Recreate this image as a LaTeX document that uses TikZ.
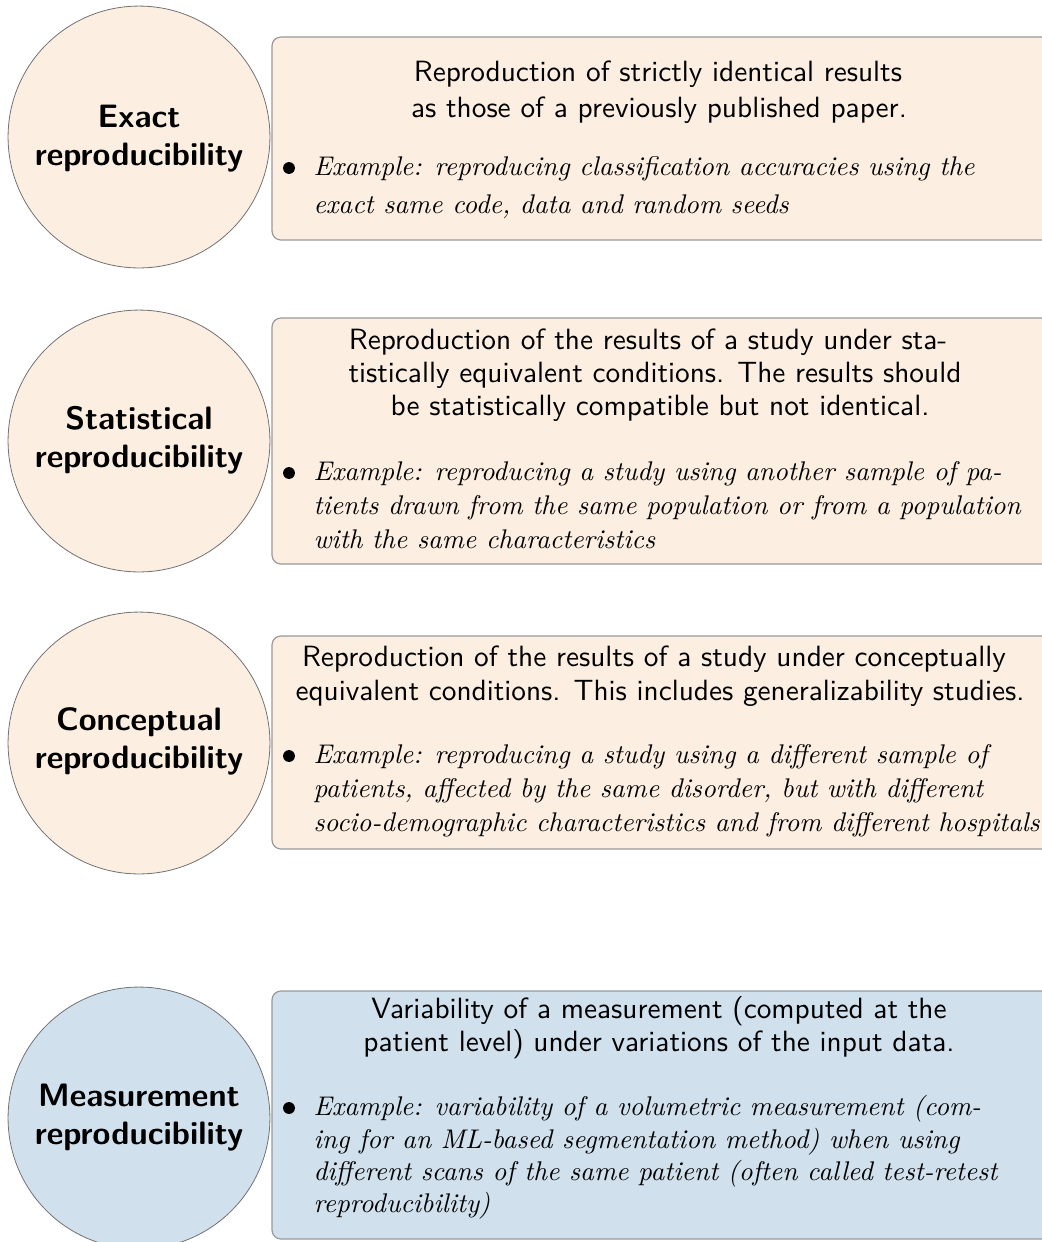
\documentclass[tikz,border=0pt]{standalone}
\usepackage{fontspec}
\definecolor{peach}{RGB}{252,238,225}
\definecolor{paleblue}{RGB}{208,224,237}
\def\pxu{0.3704pt}
\begin{document}
\begin{tikzpicture}[x=\pxu,y=-\pxu,
  circ/.style={circle, draw=black!55, line width=0.3pt, minimum size=97pt, inner sep=0pt},
  warm/.style={fill=peach},
  cool/.style={fill=paleblue},
  card/.style={draw=black!40, line width=0.45pt, rounded corners=3.3pt},
  ttl/.style={font=\fontsize{12}{14}\selectfont\sffamily\bfseries, anchor=base, inner sep=0pt},
  desc/.style={font=\fontsize{10.85}{13.6}\selectfont\sffamily, anchor=base, inner sep=0pt},
  ex/.style={font=\fontsize{10}{12}\selectfont\itshape, anchor=base west, inner sep=0pt},
  bul/.style={fill=black, circle, inner sep=0pt, minimum size=4.4pt}]
\useasboundingbox (0,0) rectangle (1042,1242);
\clip (0,0) rectangle (1042,1242);

% ---------- circles ----------
\node[circ, warm] (c1) at (139,137) {};
\node[circ, warm] (c2) at (139,441) {};
\node[circ, warm] (c3) at (139,743) {};
\node[circ, cool] (c4) at (139,1118) {};

% ---------- cards ----------
\path[card, warm] (272,37) rectangle (1062,240);
\path[card, warm] (272,318) rectangle (1062,564);
\path[card, warm] (272,636) rectangle (1062,849);
\path[card, cool] (272,991) rectangle (1062,1239);

% ---------- circle titles ----------
\node[ttl] (t1a) at (139,127) {Exact};
\node[ttl] (t1b) at (139,165) {reproducibility};
\node[ttl] (t2a) at (139,429) {Statistical};
\node[ttl] (t2b) at (139,467) {reproducibility};
\node[ttl] (t3a) at (139,730) {Conceptual};
\node[ttl] (t3b) at (139,768) {reproducibility};
\node[ttl] (t4a) at (139,1106) {Measurement};
\node[ttl] (t4b) at (139,1144) {reproducibility};

% ---------- card 1 ----------
\node[desc] (d1a) at (658,81) {Reproduction of strictly identical results};
\node[desc] (d1b) at (659,117) {as those of a previously published paper.};
\node[bul] (b1) at (289,168) {};
\node[ex] (e1a) at (313,175) {Example: reproducing classification accuracies using the};
\node[ex] (e1b) at (313,213) {exact same code, data and random seeds};

% ---------- card 2 ----------
\node[desc] (d2a) at (648,349) {Reproduction of the results of a study under sta-};
\node[desc] (d2b) at (655,382) {tistically equivalent conditions. The results should};
\node[desc] (d2c) at (660,415) {be statistically compatible but not identical.};
\node[bul] (b2) at (289,473) {};
\node[ex] (e2a) at (313,480) {Example: reproducing a study using another sample of pa-};
\node[ex] (e2b) at (313,514) {tients drawn from the same population or from a population};
\node[ex] (e2c) at (313,548) {with the same characteristics};

% ---------- card 3 ----------
\node[desc] (d3a) at (654,666) {Reproduction of the results of a study under conceptually};
\node[desc] (d3b) at (660,700) {equivalent conditions. This includes generalizability studies.};
\node[bul] (b3) at (289,756) {};
\node[ex] (e3a) at (313,763) {Example: reproducing a study using a different sample of};
\node[ex] (e3b) at (313,797) {patients, affected by the same disorder, but with different};
\node[ex] (e3c) at (313,831) {socio-demographic characteristics and from different hospitals};

% ---------- card 4 ----------
\node[desc] (d4a) at (659,1018) {Variability of a measurement (computed at the};
\node[desc] (d4b) at (659,1051) {patient level) under variations of the input data.};
\node[bul] (b4) at (289,1108) {};
\node[ex] (e4a) at (313,1115) {Example: variability of a volumetric measurement (com-};
\node[ex] (e4b) at (313,1148) {ing for an ML-based segmentation method) when using};
\node[ex] (e4c) at (313,1180) {different scans of the same patient (often called test-retest};
\node[ex] (e4d) at (313,1212) {reproducibility)};
\end{tikzpicture}
\end{document}
